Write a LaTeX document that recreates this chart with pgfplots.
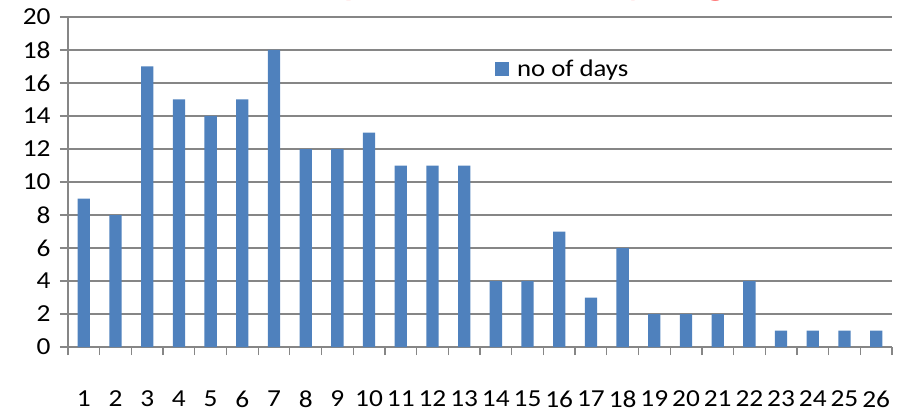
\documentclass[border=0pt]{standalone}
\usepackage{fontspec}
\setmainfont{Carlito}[FakeStretch=1.12]
\usepackage{pgfplots}
\pgfplotsset{compat=1.18}
\definecolor{barblue}{RGB}{79,129,189}
\definecolor{gridgray}{RGB}{134,134,134}
\begin{document}
\begin{tikzpicture}
\useasboundingbox (-68bp,-68bp) rectangle (833bp,347bp);
\begin{axis}[
  at={(0,0)}, anchor=south west,
  scale only axis, width=824bp, height=330bp,
  xmin=0.5, xmax=26.5, ymin=0, ymax=20,
  ybar, bar width=12.3bp,
  xtick={1,...,26},
  minor xtick={0.5,1.5,...,26.5},
  ytick={0,2,...,20},
  tick align=outside,
  major tick length=8bp, minor tick length=8bp,
  major x tick style={draw=none},
  minor x tick style={draw=gridgray, line width=1.3bp},
  ytick style={draw=gridgray, line width=1.3bp},
  ymajorgrids, grid style={draw=gridgray, line width=1.3bp},
  axis x line*=bottom, axis y line*=left,
  axis line style={draw=gridgray, line width=1.3bp, -},
  /pgf/number format/assume math mode=true,
  tick label style={font=\fontsize{24.5}{28}\selectfont, text=black},
  xticklabel style={yshift=-32bp},
  yticklabel style={xshift=-6bp},
  legend style={at={(rel axis cs:0.518,0.842)}, anchor=west, draw=none, fill=none,
    inner sep=0pt, font=\fontsize{24}{28}\selectfont},
  legend image code/.code={\fill[barblue] (0bp,-7bp) rectangle (14bp,7bp); \path (20bp,0bp);},
  legend cell align=left,
  clip=false,
]
\addplot[fill=barblue, draw=none] coordinates {
(1,9) (2,8) (3,17) (4,15) (5,14) (6,15) (7,18) (8,12) (9,12) (10,13)
(11,11) (12,11) (13,11) (14,4) (15,4) (16,7) (17,3) (18,6) (19,2) (20,2)
(21,2) (22,4) (23,1) (24,1) (25,1) (26,1)};
\addlegendentry{no of days}
\end{axis}
\node[anchor=base, text=red, font=\fontsize{44}{50}\selectfont] at (423bp,353.5bp) {Hot spot score (daily avg)};
\end{tikzpicture}
\end{document}
